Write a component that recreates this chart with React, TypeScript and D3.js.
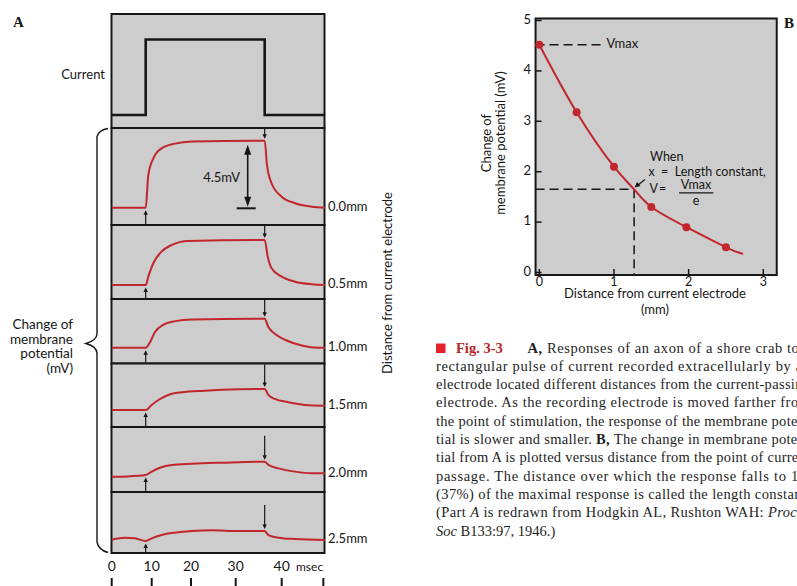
import React from "react";
import * as d3 from "d3";

// ---- Panel A data: time (msec) and change of membrane potential (mV) ----
const currentTime = [0, 8.5, 8.5, 36.3, 36.3, 50.4];
const currentLevel = [0, 0, 1, 1, 0, 0];

const distanceLabels = ["0.0mm", "0.5mm", "1.0mm", "1.5mm", "2.0mm", "2.5mm"];

const t00 = [0, 8.5, 9.15, 10.4, 12.5, 15.9, 20.2, 36.3, 36.8, 37.8, 40, 43.2, 47.2, 50.4];
const v00 = [0, 0, 2.19, 3.3, 3.98, 4.3, 4.45, 4.5, 2.87, 1.64, 0.74, 0.3, 0.07, 0];

const t05 = [0, 8.5, 9.15, 10.4, 12.5, 15.05, 19.3, 36.3, 37, 37.8, 40, 43.2, 47.2, 50.4];
const v05 = [0, 0, 0.56, 1.46, 2.24, 2.68, 2.95, 3.02, 1.84, 1.12, 0.56, 0.22, 0.05, 0];

const t10 = [0, 8.5, 9.6, 10.8, 13, 16, 20.2, 36.3, 37.1, 38.5, 41.2, 44.8, 48.8, 50.4];
const v10 = [0, 0, 0.38, 1.05, 1.55, 1.79, 1.9, 1.95, 1.39, 0.94, 0.49, 0.15, 0, 0];

const t15 = [0, 8.5, 10, 11.7, 14.2, 17.6, 23.1, 30.6, 36.3, 37.1, 38.5, 41.6, 45.6, 50.4];
const v15 = [0, 0, 0.34, 0.67, 1.01, 1.19, 1.3, 1.39, 1.41, 1.01, 0.74, 0.52, 0.34, 0.29];

const t20 = [0, 4, 8.5, 10, 12.1, 15.1, 20.2, 26.9, 36.3, 37.1, 39.3, 43.2, 47.2, 50.4];
const v20 = [0, 0.02, 0.11, 0.34, 0.6, 0.79, 0.87, 0.94, 1.01, 0.79, 0.56, 0.34, 0.23, 0.23];

const t25 = [0, 3.3, 5.8, 8.5, 10, 12.5, 15.9, 20.2, 24.6, 30.6, 36.3, 37.1, 39.3, 43.2, 50.4];
const v25 = [0.09, 0.22, 0.18, 0, 0.18, 0.4, 0.56, 0.67, 0.72, 0.67, 0.67, 0.4, 0.22, 0.13, 0.07];

const traceTimes = [t00, t05, t10, t15, t20, t25];
const traceValues = [v00, v05, v10, v15, v20, v25];

const pulseOn = 8.5;
const pulseOff = 36.3;
const scaleBarMv = 4.5;

const timeTicks = [0, 10, 20, 30, 40];
const timeTickMarks = [0, 10, 20, 30, 40, 50];

// ---- Panel B data ----
const bDistance = [0, 0.5, 1, 1.5, 1.97, 2.5];
const bPotential = [4.52, 3.18, 2.1, 1.3, 0.9, 0.5];
const fitDistance = [0, 0.5, 1, 1.27, 1.5, 1.97, 2.5, 2.73];
const fitPotential = [4.52, 3.18, 2.1, 1.65, 1.3, 0.9, 0.5, 0.37];
const vmax = 4.52;
const lengthConstant = 1.27;
const vAtLambda = 1.65;
const bXTicks = [0, 1, 2, 3];
const bYTicks = [0, 1, 2, 3, 4, 5];

// ---- Caption ----
type Seg = { t: string; b?: boolean; i?: boolean };
const captionLines: Seg[][] = [
  [{ t: "A,", b: true }, { t: " Responses of an axon of a shore crab to a" }],
  [{ t: "rectangular pulse of current recorded extracellularly by an" }],
  [{ t: "electrode located different distances from the current-passing" }],
  [{ t: "electrode. As the recording electrode is moved farther from" }],
  [{ t: "the point of stimulation, the response of the membrane poten-" }],
  [{ t: "tial is slower and smaller. " }, { t: "B,", b: true }, { t: " The change in membrane poten-" }],
  [{ t: "tial from A is plotted versus distance from the point of current" }],
  [{ t: "passage. The distance over which the response falls to 1/e" }],
  [{ t: "(37%) of the maximal response is called the length constant." }],
  [{ t: "(Part " }, { t: "A", i: true }, { t: " is redrawn from Hodgkin AL, Rushton WAH: " }, { t: "Proc R", i: true }],
  [{ t: "Soc", i: true }, { t: " B133:97, 1946.)" }],
];

const SANS = "Lato, 'Open Sans', sans-serif";
const SERIF = "'Liberation Serif', 'Times New Roman', serif";
const RED = "#c1262c";
const INK = "#161616";
const PANEL = "#cdcdcd";

const Arrow = ({ x, y1, y2, head = 4.5, w = 2.2, sw = 1.2 }: any) => {
  const dir = y2 > y1 ? 1 : -1;
  return (
    <g>
      <line x1={x} x2={x} y1={y1} y2={y2 - dir * head * 0.6} stroke={INK} strokeWidth={sw} />
      <path d={`M${x - w},${y2 - dir * head} L${x + w},${y2 - dir * head} L${x},${y2} Z`} fill={INK} />
    </g>
  );
};

export default function App() {
  // Panel A geometry
  const aLeft = 111.5;
  const aRight = 324.5;
  const curTop = 14;
  const boxEdges = [128, 225, 299, 363.5, 427, 492, 553];
  const baselineOffset = [17.3, 14, 15.7, 17, 15.3, 12];
  const pxPerMv = 14.9;

  const tx = d3.scaleLinear().domain([0, 10, 20, 30, 40, 50.4]).range([111.7, 151.7, 191, 235.7, 281.7, 325]);
  const curY = d3.scaleLinear().domain([0, 1]).range([115, 39.5]);
  const curLine = d3
    .line<number>()
    .x((_, i) => tx(currentTime[i]))
    .y((d) => curY(d));

  const panelY = (k: number) => {
    const base = boxEdges[k + 1] - baselineOffset[k];
    return d3.scaleLinear().domain([0, 1]).range([base, base - pxPerMv]);
  };

  // Panel B geometry
  const bx = d3.scaleLinear().domain([0, 3]).range([539.3, 763.3]);
  const by = d3.scaleLinear().domain([0, 5]).range([272.5, 20.5]);
  const bLeft = bx(-0.05);
  const bRight = bx(3.18);
  const bTop = by(5.04);
  const bBottom = by(-0.05);
  const fitLine = d3
    .line<number>()
    .x((_, i) => bx(fitDistance[i]))
    .y((d) => by(d))
    .curve(d3.curveNatural);

  const capLeft = 436;
  const capRight = 810;
  const capTop = 352.5;
  const capStep = 18.33;

  return (
    <svg
      width={797}
      height={586}
      viewBox="0 0 797 586"
      style={{ position: "absolute", left: 0, top: 0, background: "#fff" }}
    >
      {/* ---------- Panel A ---------- */}
      <text x={13} y={27} fontFamily={SERIF} fontWeight="bold" fontSize={15} fill={INK}>A</text>

      {/* current panel */}
      <rect x={aLeft} y={curTop} width={aRight - aLeft} height={boxEdges[0] - curTop} fill={PANEL} stroke={INK} strokeWidth={2} />
      <path d={curLine(currentLevel) || ""} fill="none" stroke={INK} strokeWidth={2.6} />
      <text x={105} y={76} textAnchor="end" dominantBaseline="middle" fontFamily={SANS} fontSize={13} fill={INK}>Current</text>

      {/* trace panels */}
      {traceValues.map((vals, k) => {
        const y = panelY(k);
        const top = boxEdges[k];
        const bottom = boxEdges[k + 1];
        const times = traceTimes[k];
        const line = d3
          .line<number>()
          .x((_, i) => tx(times[i]))
          .y((d) => y(d))
          .curve(d3.curveMonotoneX);
        const onIdx = times.indexOf(pulseOn);
        const offIdx = times.indexOf(pulseOff);
        const yOn = y(vals[onIdx]);
        const yOff = y(vals[offIdx]);
        const yEnd = y(vals[vals.length - 1]);
        return (
          <g key={k}>
            <rect x={aLeft} y={top} width={aRight - aLeft} height={bottom - top} fill={PANEL} stroke={INK} strokeWidth={2} />
            <path d={line(vals) || ""} fill="none" stroke={RED} strokeWidth={2} />
            <Arrow x={tx(pulseOn)} y1={bottom - 1} y2={yOn + 2.5} />
            <Arrow x={tx(pulseOff)} y1={Math.max(top + 1, yOff - 26)} y2={yOff - 2} />
            <text x={328} y={yEnd} dominantBaseline="middle" fontFamily={SANS} fontSize={13} fill={INK}>
              {distanceLabels[k]}
            </text>
          </g>
        );
      })}

      {/* 4.5 mV scale bar */}
      {(() => {
        const y = panelY(0);
        const x = 247.7;
        const y0 = y(0) - 1;
        const y1 = y(scaleBarMv) + 4;
        return (
          <g>
            <line x1={x} x2={x} y1={y1 + 8} y2={y0 - 8} stroke={INK} strokeWidth={1.6} />
            <path d={`M${x - 3.5},${y1 + 10} L${x + 3.5},${y1 + 10} L${x},${y1} Z`} fill={INK} />
            <path d={`M${x - 3.5},${y0 - 10} L${x + 3.5},${y0 - 10} L${x},${y0} Z`} fill={INK} />
            <line x1={236.7} x2={255.7} y1={y(0) + 0.6} y2={y(0) + 0.6} stroke={INK} strokeWidth={2} />
            <text x={240} y={178.5} textAnchor="end" dominantBaseline="middle" fontFamily={SANS} fontSize={13} fill={INK}>
              4.5mV
            </text>
          </g>
        );
      })()}

      {/* brace and y label */}
      <path
        d="M108,128.5 Q99,130 97,136.5 L97,334 Q96.5,340.5 86,343.5 Q96.5,346.5 97,353 L97,542 Q98.5,550 108,552.5"
        fill="none"
        stroke={INK}
        strokeWidth={1.4}
      />
      {["Change of", "membrane", "potential", "(mV)"].map((s, i) => (
        <text key={s} x={73} y={325.7 + i * 14.6} textAnchor="end" dominantBaseline="middle" fontFamily={SANS} fontSize={13.5} fill={INK}>
          {s}
        </text>
      ))}

      {/* distance label */}
      <text
        transform="translate(389,283) rotate(-90)"
        textAnchor="middle"
        dominantBaseline="middle"
        fontFamily={SANS}
        fontSize={13}
        fill={INK}
      >
        Distance from current electrode
      </text>

      {/* time axis */}
      {timeTicks.map((t) => (
        <text key={t} x={tx(t)} y={567} textAnchor="middle" dominantBaseline="middle" fontFamily={SANS} fontSize={14} fill={INK}>
          {t}
        </text>
      ))}
      <text x={296} y={567.5} dominantBaseline="middle" fontFamily={SANS} fontSize={12} fill={INK}>msec</text>
      {timeTickMarks.map((t) => (
        <line key={t} x1={tx(t)} x2={tx(t)} y1={578} y2={586} stroke={INK} strokeWidth={2} />
      ))}

      {/* ---------- Panel B ---------- */}
      <text x={784} y={28} fontFamily={SERIF} fontWeight="bold" fontSize={15} fill={INK}>B</text>
      <rect x={bLeft} y={bTop} width={bRight - bLeft} height={bBottom - bTop} fill={PANEL} stroke={INK} strokeWidth={2} />

      {bXTicks.map((d) => (
        <g key={`bx${d}`}>
          <line x1={bx(d)} x2={bx(d)} y1={bBottom} y2={bBottom - 6} stroke={INK} strokeWidth={1.5} />
          <text x={bx(d)} y={282.5} textAnchor="middle" dominantBaseline="middle" fontFamily={SANS} fontSize={12.5} fill={INK}>
            {d}
          </text>
        </g>
      ))}
      {bYTicks.map((d) => (
        <g key={`by${d}`}>
          <line x1={bLeft} x2={bLeft + 6} y1={by(d)} y2={by(d)} stroke={INK} strokeWidth={1.5} />
          <text x={531} y={by(d)} textAnchor="end" dominantBaseline="middle" fontFamily={SANS} fontSize={13} fill={INK}>
            {d}
          </text>
        </g>
      ))}

      {/* dashed guides */}
      <line x1={bLeft} x2={bx(0.82)} y1={by(vmax)} y2={by(vmax)} stroke={INK} strokeWidth={1.5} strokeDasharray="9 5" />
      <line x1={bLeft} x2={bx(lengthConstant)} y1={by(vAtLambda)} y2={by(vAtLambda)} stroke={INK} strokeWidth={1.5} strokeDasharray="9 5" />
      <line x1={bx(lengthConstant)} x2={bx(lengthConstant)} y1={by(vAtLambda)} y2={bBottom} stroke={INK} strokeWidth={1.5} strokeDasharray="9 5" />

      <path d={fitLine(fitPotential) || ""} fill="none" stroke={RED} strokeWidth={2} />
      {bPotential.map((v, i) => (
        <circle key={i} cx={bx(bDistance[i])} cy={by(v)} r={4} fill={RED} />
      ))}

      <text x={606.5} y={45} dominantBaseline="middle" fontFamily={SANS} fontSize={13} fill={INK}>Vmax</text>

      {/* length constant annotation */}
      <line x1={645} y1={179.5} x2={638} y2={185} stroke={INK} strokeWidth={1.2} />
      <path d="M634.5,187.5 L637,182 L640.5,186 Z" fill={INK} />
      <g fontFamily={SANS} fontSize={12.5} fill={INK}>
        <text x={650} y={158.3} dominantBaseline="middle">When</text>
        <text x={648.5} y={173} dominantBaseline="middle" xmlSpace="preserve">x  =  Length constant,</text>
        <text x={649.5} y={189.8} dominantBaseline="middle">V</text>
        <text x={662.5} y={189.8} textAnchor="middle" dominantBaseline="middle">=</text>
        <text x={696} y={186} textAnchor="middle" dominantBaseline="middle">Vmax</text>
        <line x1={679} x2={713.3} y1={192.8} y2={192.8} stroke={INK} strokeWidth={1.3} />
        <text x={696} y={201.5} textAnchor="middle" dominantBaseline="middle">e</text>
      </g>

      <text x={655} y={294.5} textAnchor="middle" dominantBaseline="middle" fontFamily={SANS} fontSize={13} fill={INK}>
        Distance from current electrode
      </text>
      <text x={655} y={310.5} textAnchor="middle" dominantBaseline="middle" fontFamily={SANS} fontSize={13} fill={INK}>(mm)</text>
      <text transform="translate(488,143) rotate(-90)" textAnchor="middle" dominantBaseline="middle" fontFamily={SANS} fontSize={13} fill={INK}>
        Change of
      </text>
      <text transform="translate(501.5,143) rotate(-90)" textAnchor="middle" dominantBaseline="middle" fontFamily={SANS} fontSize={13} fill={INK}>
        membrane potential (mV)
      </text>

      {/* ---------- Caption ---------- */}
      <rect x={436} y={343.5} width={9.5} height={9.5} fill="#e3222b" />
      <text x={456} y={capTop} fontFamily={SERIF} fontSize={14.5} fontWeight="bold" fill="#b8262b">Fig. 3-3</text>
      {captionLines.map((segs, i) => {
        const x = i === 0 ? 527.5 : capLeft;
        const justify = i < captionLines.length - 1;
        return (
          <text
            key={i}
            x={x}
            y={capTop + i * capStep}
            fontFamily={SERIF}
            fontSize={14.5}
            fill="#1e1e1e"
            textLength={justify ? capRight - x : undefined}
            lengthAdjust="spacing"
          >
            {segs.map((s, j) => (
              <tspan key={j} fontWeight={s.b ? "bold" : "normal"} fontStyle={s.i ? "italic" : "normal"}>
                {s.t}
              </tspan>
            ))}
          </text>
        );
      })}
    </svg>
  );
}
